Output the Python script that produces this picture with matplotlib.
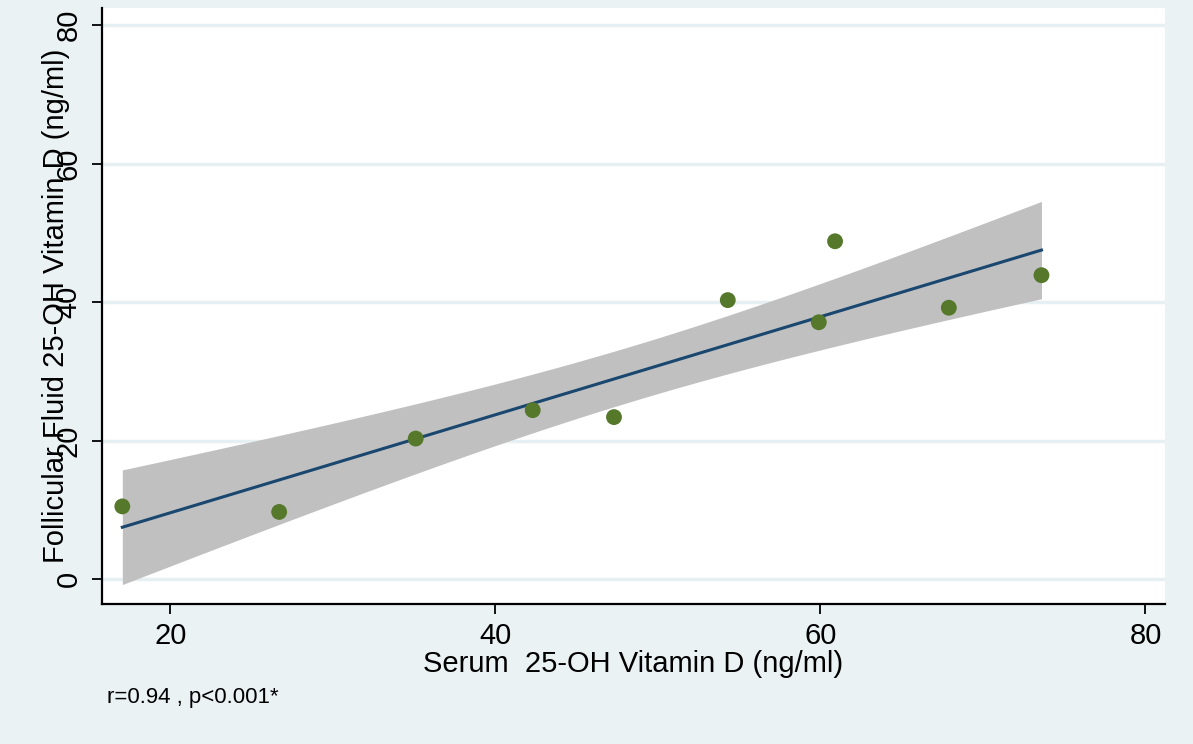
import numpy as np
import matplotlib
matplotlib.use("Agg")
import matplotlib.pyplot as plt

# Serum vs follicular fluid 25-OH vitamin D (ng/ml)
serum_vitd = [17.05, 26.7, 35.1, 42.3, 47.3, 54.3, 59.9, 60.9, 67.9, 73.6]
ff_vitd = [10.5, 9.7, 20.3, 24.4, 23.4, 40.3, 37.1, 48.8, 39.2, 43.9]
x_ticks = [20, 40, 60, 80]
y_ticks = [0, 20, 40, 60, 80]
stats_note = "r=0.94 , p<0.001*"

plt.rcParams['font.family'] = ['Liberation Sans', 'DejaVu Sans']

BG = '#eaf2f3'
GRID = '#e6eff1'
NAVY = '#1a476f'
GREEN = '#55782b'
CI_GRAY = '#c0c0c0'


def linear_fit_ci(x, y, n_grid=200):
    """OLS line with 95% CI of the mean prediction (like Stata lfitci)."""
    x = np.asarray(x, float)
    y = np.asarray(y, float)
    n = len(x)
    slope, intercept = np.polyfit(x, y, 1)
    resid = y - (intercept + slope * x)
    s = np.sqrt(np.sum(resid ** 2) / (n - 2))
    t_crit = 2.306  # t(0.975, df=8)
    xs = np.linspace(x.min(), x.max(), n_grid)
    fit = intercept + slope * xs
    se = s * np.sqrt(1 / n + (xs - x.mean()) ** 2 / np.sum((x - x.mean()) ** 2))
    return xs, fit, fit - t_crit * se, fit + t_crit * se


fig = plt.figure(figsize=(11.93, 7.44), dpi=100, facecolor=BG)
ax = fig.add_axes([102 / 1193, 1 - 604 / 744, (1165 - 102) / 1193, (604 - 8) / 744])
ax.set_facecolor('white')

xs, fit, lo, hi = linear_fit_ci(serum_vitd, ff_vitd)
ax.fill_between(xs, lo, hi, color=CI_GRAY, linewidth=0, zorder=2)
ax.plot(xs, fit, color=NAVY, linewidth=2.2, zorder=3)
ax.scatter(serum_vitd, ff_vitd, s=130, color=GREEN, edgecolors='none', zorder=4)

ax.set_xlim(15.8, 81.2)
ax.set_ylim(-3.6, 82.5)
ax.set_xticks(x_ticks)
ax.set_yticks(y_ticks)
ax.yaxis.grid(True, color=GRID, linewidth=2.5, zorder=1)
ax.set_axisbelow(True)

for side in ['top', 'right']:
    ax.spines[side].set_visible(False)
for side in ['left', 'bottom']:
    ax.spines[side].set_linewidth(1.6)
    ax.spines[side].set_color('black')

ax.tick_params(axis='both', direction='out', length=7, width=1.3, labelsize=21, colors='black')
ax.tick_params(axis='x', pad=6)
ax.tick_params(axis='y', pad=7)
for lab in ax.get_yticklabels():
    lab.set_rotation(90)
    lab.set_va('center')

ax.set_xlabel('Serum  25-OH Vitamin D (ng/ml)', fontsize=21, labelpad=0)
ax.set_ylabel('Follicular Fluid 25-OH Vitamin D (ng/ml)', fontsize=21, labelpad=-11)

fig.text(107 / 1193, 1 - 697 / 744, stats_note, fontsize=16, va='center', ha='left')

fig.savefig('out.png', dpi=100, facecolor=BG)
